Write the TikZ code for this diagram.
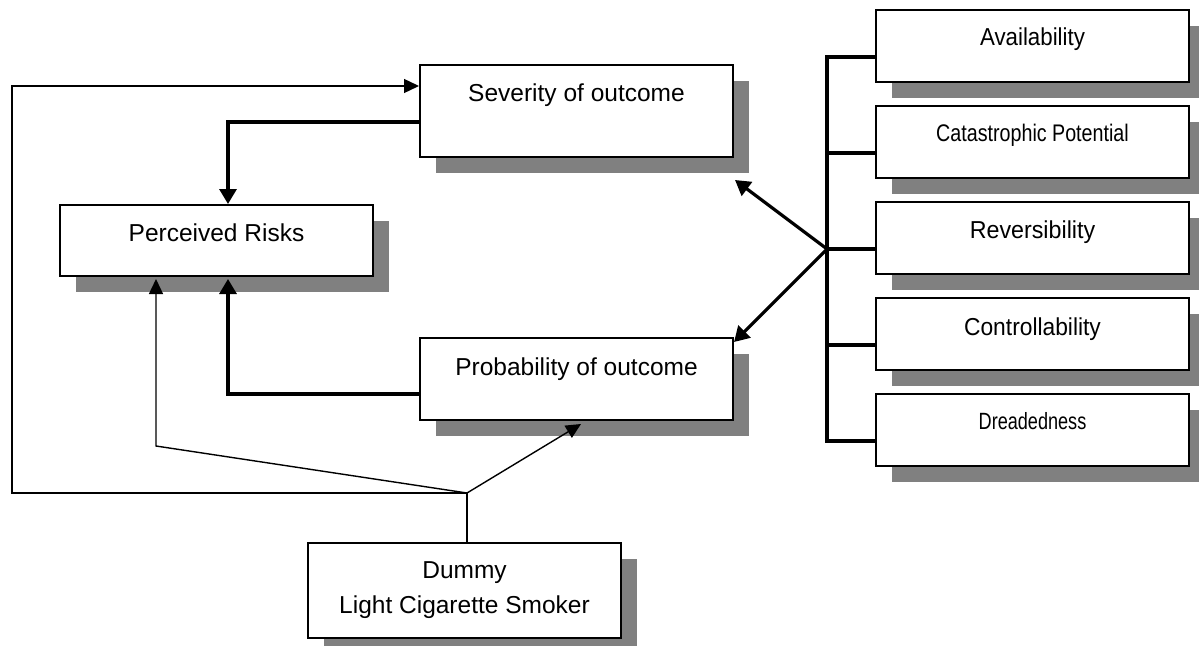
\documentclass[tikz,border=0pt]{standalone}
\usepackage{fontspec}
\setmainfont{Liberation Sans}
\newfontfamily\fAv[FakeStretch=0.91]{Liberation Sans}
\newfontfamily\fCat[FakeStretch=0.82]{Liberation Sans}
\newfontfamily\fRev[FakeStretch=0.95]{Liberation Sans}
\newfontfamily\fCon[FakeStretch=0.93]{Liberation Sans}
\newfontfamily\fDre[FakeStretch=0.77]{Liberation Sans}
\usetikzlibrary{arrows.meta,shadows,calc}
\definecolor{shadowgray}{RGB}{128,128,128}
\tikzset{
  box/.style={draw=black, line width=2pt, fill=white, rectangle, inner sep=0pt,
    anchor=north west,
    general shadow={fill=shadowgray, shadow xshift=16pt, shadow yshift=-16pt}},
  bigtext/.style={font=\fontsize{24.5}{35}\selectfont},
  leftbox/.style={box, bigtext, minimum width=313pt},
  rightbox/.style={box, minimum width=313pt},
  thinline/.style={line width=1.4pt},
  thickline/.style={line width=3.2pt},
  arrowtip/.style={-{Triangle[length=15pt,width=14pt]}},
  thickarrowtip/.style={-{Triangle[length=15pt,width=17pt]}}
}
\begin{document}
\begin{tikzpicture}[x=1pt,y=-1pt]
\useasboundingbox (0,0) rectangle (1199,645);

% left boxes
\node[leftbox, text height=36pt, text depth=56pt] (sev) at (419,64) {Severity of outcome};
\node[leftbox, text height=36pt, text depth=35pt] (perc) at (59,204) {Perceived Risks};
\node[leftbox, text height=37pt, text depth=45pt] (prob) at (419,337) {Probability of outcome};
\node[leftbox, minimum height=95pt, align=center] (dum) at (307,542) {Dummy\\Light Cigarette Smoker};

% right boxes
\node[rightbox, font=\fAv\fontsize{24.5}{28}\selectfont, text height=35pt, text depth=37pt] (av) at (875,9) {Availability};
\node[rightbox, font=\fCat\fontsize{24}{28}\selectfont, text height=35pt, text depth=37pt] (cat) at (875,105) {Catastrophic Potential};
\node[rightbox, font=\fRev\fontsize{24.5}{28}\selectfont, text height=36pt, text depth=36pt] (rev) at (875,201) {Reversibility};
\node[rightbox, font=\fCon\fontsize{24.5}{28}\selectfont, text height=37pt, text depth=35pt] (con) at (875,297) {Controllability};
\node[rightbox, font=\fDre\fontsize{23.5}{28}\selectfont, text height=35pt, text depth=37pt] (dre) at (875,393) {Dreadedness};

% junctions
\coordinate (j) at (467,493);
\coordinate (bj) at (827,249);

% dummy connections
\draw[thinline] (dum.north -| j) -- (j);
\draw[thinline, arrowtip] (j) -- ([xshift=4.5pt,yshift=-3pt]prob.south);
\draw[thinline, arrowtip] (j) -- (12,493) -- (12,86) -- ([yshift=-22pt]sev.north west);
\draw[thinline, arrowtip] (j) -- (156,446) -- ([xshift=97pt,yshift=-2pt]perc.south west);

% thick connections to perceived risks
\draw[thickline, thickarrowtip] ([yshift=-58pt]sev.north west) -| ([xshift=169pt]perc.north west);
\draw[thickline, thickarrowtip] ([yshift=-57pt]prob.north west) -| ([xshift=169pt,yshift=-2pt]perc.south west);

% bracket
\draw[thickline] ([yshift=-48pt]av.north west) -- (827,57) -- (827,441) -- ([yshift=-48pt]dre.north west);
\draw[thickline] (827,153) -- ([yshift=-48pt]cat.north west);
\draw[thickline] (bj) -- ([yshift=-48pt]rev.north west);
\draw[thickline] (827,345) -- ([yshift=-48pt]con.north west);

\draw[thickline, thickarrowtip] (bj) -- ([xshift=1pt,yshift=-22pt]sev.south east);
\draw[thickline, thickarrowtip] (bj) -- ([yshift=-5pt]prob.north east);
\end{tikzpicture}
\end{document}
